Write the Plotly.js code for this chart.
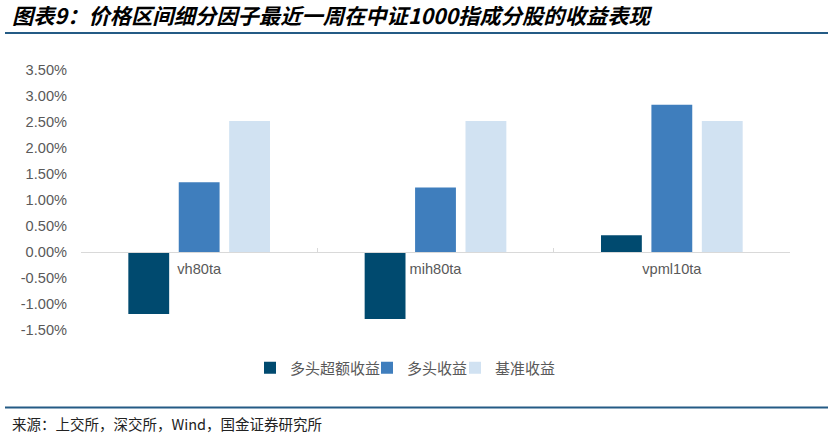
<!DOCTYPE html>
<html>
<head>
<meta charset="utf-8">
<script src="https://cdn.plot.ly/plotly-3.0.1.min.js"></script>
<style>html,body{margin:0;padding:0;background:#fff;}#chart{width:831px;height:436px;}</style>
</head>
<body>
<div id="chart"></div>
<script>
// ---- data ----
const categories = ["vh80ta", "mih80ta", "vpml10ta"];
const seriesNames = ["多头超额收益", "多头收益", "基准收益"];
const excessReturn = [-1.19, -1.29, 0.32];   // %
const longReturn   = [1.34, 1.24, 2.83];     // %
const benchReturn  = [2.52, 2.52, 2.52];     // %
const yTickVals = [-1.5, -1.0, -0.5, 0, 0.5, 1.0, 1.5, 2.0, 2.5, 3.0, 3.5];
const yTickText = yTickVals.map(v => v.toFixed(2) + "%");
const titleText = "图表9：价格区间细分因子最近一周在中证1000指成分股的收益表现";
const sourceText = "来源：上交所，深交所，Wind，国金证券研究所";

// ---- layout constants (px) ----
const W = 831, H = 436;
const L = 81, R = 41, T = 70, B = 106;
const pw = W - L - R, ph = H - T - B;
const px2x = px => (px - L) / pw;
const py2y = py => (H - B - py) / ph;
const yMin = -1.5, yMax = 3.5;

const colors = ["#004A6F", "#3F7EBD", "#D1E2F2"];
const vals = [excessReturn, longReturn, benchReturn];
const legendIds = ["legend", "legend2", "legend3"];
const legendTextStart = [290, 407, 495];

const data = vals.map((v, i) => ({
  type: "bar",
  name: seriesNames[i],
  x: categories,
  y: v,
  legend: legendIds[i],
  marker: {color: colors[i], line: {width: 0}},
  hoverinfo: "skip"
}));

const legendBase = {
  orientation: "h",
  xanchor: "left",
  y: py2y(368), yanchor: "middle",
  font: {family: "Noto Sans CJK SC", size: 15, color: "#595959"},
  bgcolor: "rgba(0,0,0,0)",
  itemclick: false, itemdoubleclick: false
};

const layout = {
  width: W, height: H,
  margin: {l: L, r: R, t: T, b: B},
  paper_bgcolor: "#fff",
  plot_bgcolor: "#fff",
  barmode: "group",
  bargap: 0.36,
  bargroupgap: 0.19,
  font: {family: "Liberation Sans, Arial, sans-serif", color: "#595959", size: 14.6},
  title: {
    text: titleText,
    xref: "container", x: 12 / W, xanchor: "left",
    yref: "container", y: 1 - 17 / H, yanchor: "middle",
    font: {family: "Noto Sans CJK SC", size: 21.3, color: "#000", weight: "bold", style: "italic"}
  },
  xaxis: {
    type: "category",
    anchor: "free",
    position: (0 - yMin) / (yMax - yMin),
    showline: true, linecolor: "#D9D9D9", linewidth: 1,
    ticks: "inside", tickson: "boundaries", ticklen: 4, tickcolor: "#D9D9D9",
    showgrid: false, zeroline: false,
    tickfont: {size: 14.6, color: "#595959", family: "Liberation Sans, Arial, sans-serif"},
    ticklabelstandoff: 3,
    fixedrange: true
  },
  yaxis: {
    range: [yMin, yMax],
    tickvals: yTickVals, ticktext: yTickText,
    showgrid: false, zeroline: false, showline: false,
    ticks: "", ticklabelstandoff: 13,
    tickfont: {size: 14.6, color: "#595959", family: "Liberation Sans, Arial, sans-serif"},
    fixedrange: true
  },
  showlegend: true,
  legend:  Object.assign({}, legendBase, {x: px2x(legendTextStart[0] - 40)}),
  legend2: Object.assign({}, legendBase, {x: px2x(legendTextStart[1] - 40)}),
  legend3: Object.assign({}, legendBase, {x: px2x(legendTextStart[2] - 40)}),
  shapes: [
    {type: "line", xref: "paper", yref: "paper",
     x0: px2x(5), x1: px2x(828), y0: py2y(33), y1: py2y(33),
     line: {color: "#245B85", width: 2}},
    {type: "line", xref: "paper", yref: "paper",
     x0: px2x(5), x1: px2x(828), y0: py2y(407.5), y1: py2y(407.5),
     line: {color: "#245B85", width: 2}}
  ],
  annotations: [
    {text: sourceText, xref: "paper", yref: "paper",
     x: px2x(10), xanchor: "left", y: py2y(423), yanchor: "middle",
     showarrow: false,
     font: {family: "Noto Sans CJK SC", size: 14.5, color: "#222"}}
  ]
};

Plotly.newPlot("chart", data, layout, {displayModeBar: false, staticPlot: true});
</script>
</body>
</html>
